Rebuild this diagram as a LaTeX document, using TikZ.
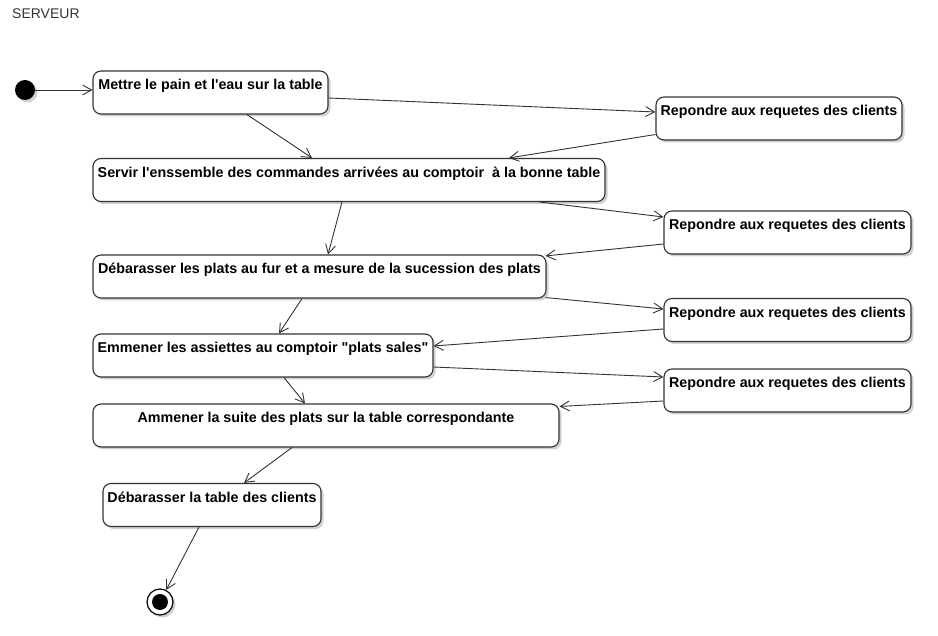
\documentclass[tikz,border=0pt]{standalone}
\usepackage{fontspec}
\setmainfont{Liberation Sans}[Ligatures=TeXOff]
\usetikzlibrary{arrows.meta}
\usetikzlibrary{shadows}

\begin{document}
\begin{tikzpicture}[x = 1pt, y = -1pt, font=\fontsize{14}{16}\selectfont]
	\tikzstyle{ShadowStyle} = [drop shadow={shadow xshift=2.5pt, shadow yshift=-2.5pt, fill=black, opacity=0.18}]
	\tikzstyle{stateStyle} = [shape = rectangle, rounded corners = 8pt, draw = black!80, line width = 1.1pt, fill = white, ShadowStyle, inner xsep = 2pt, inner ysep = 0pt, text height = 19pt, text depth = 24pt, font = \fontsize{14.3}{16}\selectfont\bfseries]
	\tikzstyle{initStyle} = [shape = circle, minimum size = 20pt, inner sep = 0pt, fill = black, ShadowStyle]
	\tikzstyle{finalStyle} = [shape = circle, minimum size = 26pt, inner sep = 0pt, draw = black, line width = 1.2pt, fill = white, ShadowStyle, path picture = {\fill[black] (path picture bounding box.center) circle (8pt);}]
	\tikzstyle{EdgeStyle} = [draw = black!80, line width = 0.9pt, -{Straight Barb[length = 9pt, width = 10pt]}]
	\useasboundingbox (0, 0) rectangle (938, 636);
	\node[anchor = base west, inner sep = 0pt, text = black!80] (title) at (12, 19) {SERVEUR};
	% etats
	\node[initStyle] (init) at (25, 90) {};
	\node[stateStyle, minimum width = 235pt] (b1) at (210.5, 92.5) {Mettre le pain et l'eau sur la table};
	\node[stateStyle, minimum width = 512pt] (b2) at (349, 180) {Servir l'enssemble des commandes arriv\'ees au comptoir \ \`a la bonne table};
	\node[stateStyle, minimum width = 453pt] (b3) at (319.5, 276.5) {D\'ebarasser les plats au fur et a mesure de la sucession des plats};
	\node[stateStyle, minimum width = 340pt] (b4) at (263, 355.5) {Emmener les assiettes au comptoir "plats sales"};
	\node[stateStyle, minimum width = 466pt] (b5) at (326, 425.5) {Ammener la suite des plats sur la table correspondante};
	\node[stateStyle, minimum width = 218pt] (b6) at (212, 505) {D\'ebarasser la table des clients};
	\node[finalStyle] (fin) at (160, 602) {};
	\node[stateStyle, minimum width = 246pt] (r1) at (779, 118.5) {Repondre aux requetes des clients};
	\node[stateStyle, minimum width = 247pt] (r2) at (787.5, 232.5) {Repondre aux requetes des clients};
	\node[stateStyle, minimum width = 247pt] (r3) at (787.5, 320) {Repondre aux requetes des clients};
	\node[stateStyle, minimum width = 247pt] (r4) at (787.5, 390.5) {Repondre aux requetes des clients};
	% transitions
	\draw[EdgeStyle] (init) -- (init -| b1.west);
	\draw[EdgeStyle] ([xshift = 36.5pt]b1.south) -- ([xshift = -37pt]b2.north);
	\draw[EdgeStyle] ([yshift = -5.5pt]b1.east) -- ([yshift = 6.5pt]r1.west);
	\draw[EdgeStyle] ([yshift = -16pt]r1.west) -- ([xshift = 160pt]b2.north);
	\draw[EdgeStyle] ([xshift = 191pt]b2.south) -- ([yshift = 15.5pt]r2.west);
	\draw[EdgeStyle] ([xshift = -7pt]b2.south) -- ([xshift = 8.5pt]b3.north);
	\draw[EdgeStyle] ([yshift = -11.5pt]r2.west) -- ([xshift = -1pt, yshift = -1.5pt]b3.north east);
	\draw[EdgeStyle] ([xshift = -1pt, yshift = 1pt]b3.south east) -- ([yshift = 11pt]r3.west);
	\draw[EdgeStyle] ([xshift = -17.5pt]b3.south) -- ([xshift = 16pt]b4.north);
	\draw[EdgeStyle] ([yshift = -9pt]r3.west) -- ([yshift = 9.5pt]b4.east);
	\draw[EdgeStyle] ([yshift = -11.5pt]b4.east) -- ([yshift = 13.5pt]r4.west);
	\draw[EdgeStyle] ([xshift = 21pt]b4.south) -- ([xshift = -21pt]b5.north);
	\draw[EdgeStyle] ([yshift = -10.5pt]r4.west) -- ([yshift = -3pt]b5.north east);
	\draw[EdgeStyle] ([xshift = -34pt]b5.south) -- ([xshift = 32pt]b6.north);
	\draw[EdgeStyle] ([xshift = -13pt]b6.south) -- (fin);
\end{tikzpicture}
\end{document}
